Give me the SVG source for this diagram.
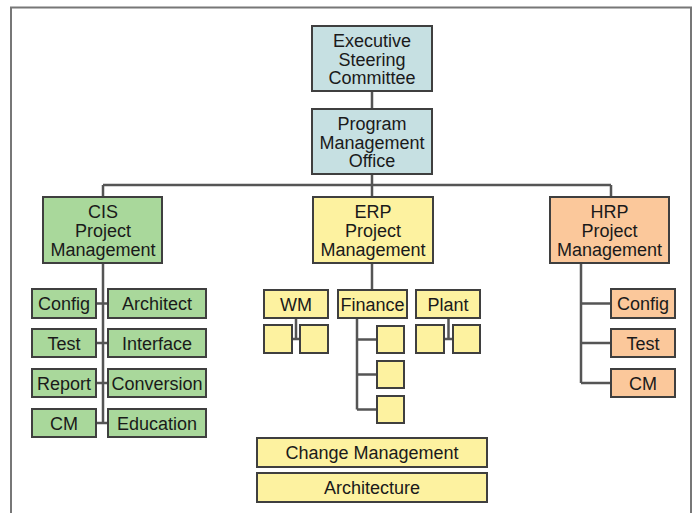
<svg xmlns="http://www.w3.org/2000/svg" width="694" height="513" viewBox="0 0 694 513">
<style>
  .box{stroke:#3f3f3f;stroke-width:2}
  .blue{fill:#c6e0e2}
  .green{fill:#a9d89b}
  .yellow{fill:#fdf2a0}
  .orange{fill:#fbc89b}
  text{font-family:"Liberation Sans",Arial,sans-serif;font-size:18px;fill:#1a1a1a;text-anchor:middle}
  .conn{stroke:#555;stroke-width:2.5;fill:none}
</style>
<rect width="694" height="513" fill="#fff"/>
<path d="M11,513 V7.5 H691 V513" fill="none" stroke="#777" stroke-width="2"/>
<g id="connectors" class="conn">
  <path d="M372,91 V109 M372,174 V197 M103,185 H611 M103,185 V197 M611,185 V197"/>
  <path d="M103,263 V423 M96,303.5 H108 M96,343 H108 M96,383 H108 M96,423 H108"/>
  <path d="M372,263 V290"/>
  <path d="M296,318 V339 M291,339 H300"/>
  <path d="M448.5,318 V339 M444,339 H453"/>
  <path d="M357,318 V409.5 M357,339.5 H377 M357,374.5 H377 M357,409.5 H377"/>
  <path d="M581,263 V383 M581,303.5 H611 M581,343 H611 M581,383 H611"/>
</g>
<g id="exec"><rect class="box blue" x="312" y="26" width="120" height="65"/><text x="372" y="47">Executive</text><text x="372" y="65.5">Steering</text><text x="372" y="84">Committee</text></g>
<g id="pmo"><rect class="box blue" x="312" y="109" width="120" height="65"/><text x="372" y="130">Program</text><text x="372" y="148.5">Management</text><text x="372" y="167">Office</text></g>
<g id="cis"><rect class="box green" x="43" y="197" width="119" height="66"/><text x="103" y="217.5">CIS</text><text x="103" y="236.5">Project</text><text x="103" y="255.5">Management</text></g>
<g id="cis-config"><rect class="box green" x="32" y="289" width="64" height="29"/><text x="64" y="310">Config</text></g>
<g id="cis-architect"><rect class="box green" x="108" y="289" width="98" height="29"/><text x="157" y="310">Architect</text></g>
<g id="cis-test"><rect class="box green" x="32" y="329" width="64" height="28"/><text x="64" y="349.5">Test</text></g>
<g id="cis-interface"><rect class="box green" x="108" y="329" width="98" height="28"/><text x="157" y="349.5">Interface</text></g>
<g id="cis-report"><rect class="box green" x="32" y="369" width="64" height="28"/><text x="64" y="389.5">Report</text></g>
<g id="cis-conversion"><rect class="box green" x="108" y="369" width="98" height="28"/><text x="157" y="389.5">Conversion</text></g>
<g id="cis-cm"><rect class="box green" x="32" y="409" width="64" height="28"/><text x="64" y="429.5">CM</text></g>
<g id="cis-education"><rect class="box green" x="108" y="409" width="98" height="28"/><text x="157" y="429.5">Education</text></g>
<g id="erp"><rect class="box yellow" x="313" y="197" width="120" height="66"/><text x="373" y="217.5">ERP</text><text x="373" y="236.5">Project</text><text x="373" y="255.5">Management</text></g>
<g id="erp-wm"><rect class="box yellow" x="264" y="290" width="64" height="28"/><text x="296" y="310.5">WM</text></g>
<g id="erp-finance"><rect class="box yellow" x="338" y="290" width="69" height="28"/><text x="372.5" y="310.5">Finance</text></g>
<g id="erp-plant"><rect class="box yellow" x="416" y="290" width="64" height="28"/><text x="448" y="310.5">Plant</text></g>
<g id="wm-1"><rect class="box yellow" x="264" y="325" width="28" height="28"/></g>
<g id="wm-2"><rect class="box yellow" x="300" y="325" width="28" height="28"/></g>
<g id="plant-1"><rect class="box yellow" x="416" y="325" width="28" height="28"/></g>
<g id="plant-2"><rect class="box yellow" x="453" y="325" width="27" height="28"/></g>
<g id="fin-1"><rect class="box yellow" x="377" y="326" width="27" height="27"/></g>
<g id="fin-2"><rect class="box yellow" x="377" y="361" width="27" height="27"/></g>
<g id="fin-3"><rect class="box yellow" x="377" y="396" width="27" height="27"/></g>
<g id="change-mgmt"><rect class="box yellow" x="257" y="438" width="230" height="29"/><text x="372" y="459">Change Management</text></g>
<g id="architecture"><rect class="box yellow" x="257" y="473" width="230" height="29"/><text x="372" y="494">Architecture</text></g>
<g id="hrp"><rect class="box orange" x="550" y="197" width="119" height="66"/><text x="609.5" y="217.5">HRP</text><text x="609.5" y="236.5">Project</text><text x="609.5" y="255.5">Management</text></g>
<g id="hrp-config"><rect class="box orange" x="611" y="289" width="64" height="29"/><text x="643" y="310">Config</text></g>
<g id="hrp-test"><rect class="box orange" x="611" y="329" width="64" height="28"/><text x="643" y="349.5">Test</text></g>
<g id="hrp-cm"><rect class="box orange" x="611" y="369" width="64" height="28"/><text x="643" y="389.5">CM</text></g>
</svg>
